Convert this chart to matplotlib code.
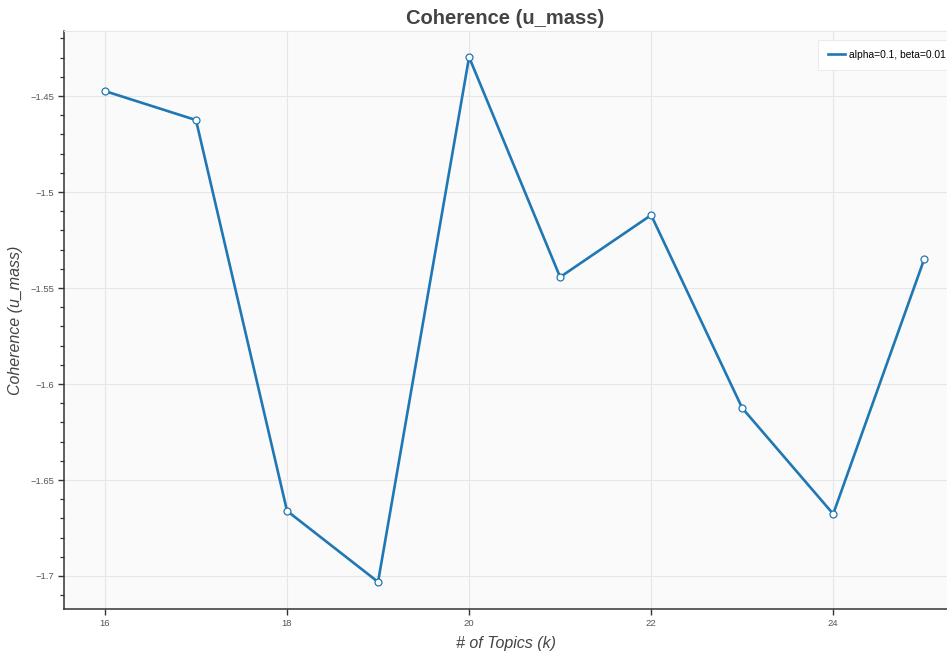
import matplotlib
matplotlib.use('Agg')
import matplotlib.pyplot as plt
from matplotlib.ticker import MultipleLocator, FuncFormatter

plt.rcParams['font.family'] = ['Liberation Sans', 'DejaVu Sans']

# data
topics = [16, 17, 18, 19, 20, 21, 22, 23, 24, 25]
coherence = [-1.4474, -1.4625, -1.6661, -1.7031, -1.4297,
             -1.5443, -1.5120, -1.6125, -1.6677, -1.5349]
series_label = 'alpha=0.1, beta=0.01'

fig = plt.figure(figsize=(9.47, 6.51), dpi=100)
ax = fig.add_axes([64 / 947, 42 / 651, 1 - 64 / 947, 578 / 651])
ax.set_facecolor('#fafafa')

ax.plot(topics, coherence, color='#1f77b4', linewidth=1.9, label=series_label, zorder=3)
ax.plot(topics, coherence, linestyle='none', marker='o', markersize=5,
        markerfacecolor='white', markeredgecolor='#1f77b4', markeredgewidth=0.9, zorder=4)

ax.set_xlim(15.55, 25.25)
ax.set_ylim(-1.7172, -1.4161)

ax.xaxis.set_major_locator(MultipleLocator(2))
ax.yaxis.set_major_locator(MultipleLocator(0.05))
ax.yaxis.set_minor_locator(MultipleLocator(0.01))
ax.yaxis.set_major_formatter(FuncFormatter(lambda v, p: ('%g' % round(v, 3)).replace('-', '\u2212')))

ax.grid(True, which='major', color='#e6e6e6', linewidth=0.8, zorder=0)
ax.set_axisbelow(True)

ax.spines['right'].set_visible(False)
ax.spines['top'].set_color('#e8e8e8')
ax.spines['top'].set_linewidth(0.8)
for s in ['left', 'bottom']:
    ax.spines[s].set_color('#333333')
    ax.spines[s].set_linewidth(1.1)

ax.tick_params(axis='both', which='major', direction='out', length=4.5, width=1,
               color='#333333', labelsize=6.8, labelcolor='#555555', pad=2.5)
ax.tick_params(axis='y', which='minor', direction='out', length=3, width=0.9, color='#333333')

ax.set_title('Coherence (u_mass)', fontsize=14.5, fontweight='bold', color='#444444', pad=5)
ax.set_xlabel('# of Topics (k)', fontsize=11.5, style='italic', color='#444444', labelpad=6)
ax.set_ylabel('Coherence (u_mass)', fontsize=11.5, style='italic', color='#444444', labelpad=5)

leg = ax.legend(loc='upper left', bbox_to_anchor=(0.854, 0.985), borderaxespad=0,
                fontsize=7.4, frameon=True, fancybox=False, edgecolor='#ececec',
                facecolor='white', framealpha=1, handlelength=1.6, handletextpad=0.4,
                borderpad=1.0)
leg.get_frame().set_linewidth(0.8)

plt.savefig('out.png', dpi=100)
plt.close()
